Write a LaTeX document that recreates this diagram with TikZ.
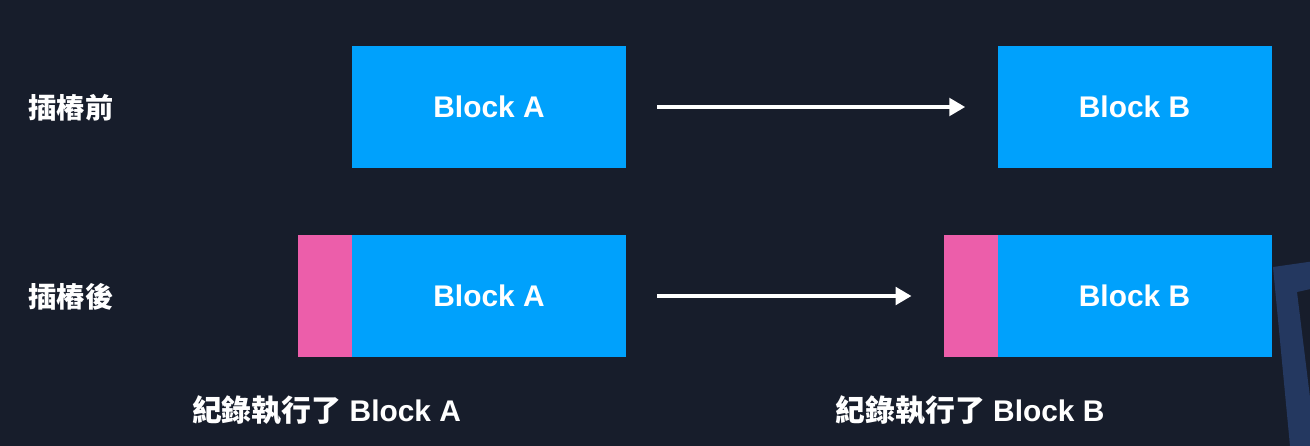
\documentclass[tikz,border=0pt]{standalone}
\usepackage{fontspec}
\setmainfont{Liberation Sans}
\newfontfamily\cjk{Noto Sans CJK TC}
\usetikzlibrary{arrows.meta,positioning}
\definecolor{bgnavy}{RGB}{23,29,43}
\definecolor{blockblue}{RGB}{0,161,252}
\definecolor{probepink}{RGB}{236,94,170}
\definecolor{logoblue}{RGB}{36,56,96}
\begin{document}
\begin{tikzpicture}[every node/.style={font=\bfseries\fontsize{17}{20}\selectfont,text=white},
  block/.style={fill=blockblue,minimum width=5.48cm,minimum height=2.44cm,inner sep=0pt},
  probe/.style={fill=probepink,minimum width=1.08cm,minimum height=2.44cm,inner sep=0pt},
  rowlabel/.style={font=\cjk\bfseries\fontsize{16}{19}\selectfont},
  flow/.style={-{Triangle[length=9pt,width=10pt]},white,line width=1.9pt,shorten <=0.62cm,shorten >=0.64cm}]
  \fill[bgnavy] (0,0) rectangle (26.2,-8.92);
  \useasboundingbox (0,0) rectangle (26.2,-8.92);
  % logo corner at the right edge
  \begin{scope}
    \clip (0,0) rectangle (26.2,-8.92);
    \fill[logoblue] (25.46,-5.34) -- (26.3,-5.22) -- (26.3,-5.76) -- (25.94,-5.84) -- (26.32,-8.92) -- (25.8,-8.92) -- cycle;
  \end{scope}
  % before instrumentation
  \node[rowlabel] (before) at (1.42,-2.16) {插樁前};
  \node[block] (topA) at (9.78,-2.14) {Block A};
  \node[block] (topB) at (22.69,-2.14) {Block B};
  \draw[flow] (topA) -- (topB);
  % after instrumentation
  \node[rowlabel] (after) at (1.42,-5.94) {插樁後};
  \node[block] (botA) at (9.78,-5.92) {Block A};
  \node[probe,left=-0.02cm of botA] (probeA) {};
  \node[block] (botB) at (22.69,-5.92) {Block B};
  \node[probe,left=-0.02cm of botB] (probeB) {};
  \draw[flow] (botA) -- (probeB);
  \node (logA) at (6.53,-8.2) {{\cjk 紀錄執行了} Block A};
  \node (logB) at (19.4,-8.2) {{\cjk 紀錄執行了} Block B};
\end{tikzpicture}
\end{document}
